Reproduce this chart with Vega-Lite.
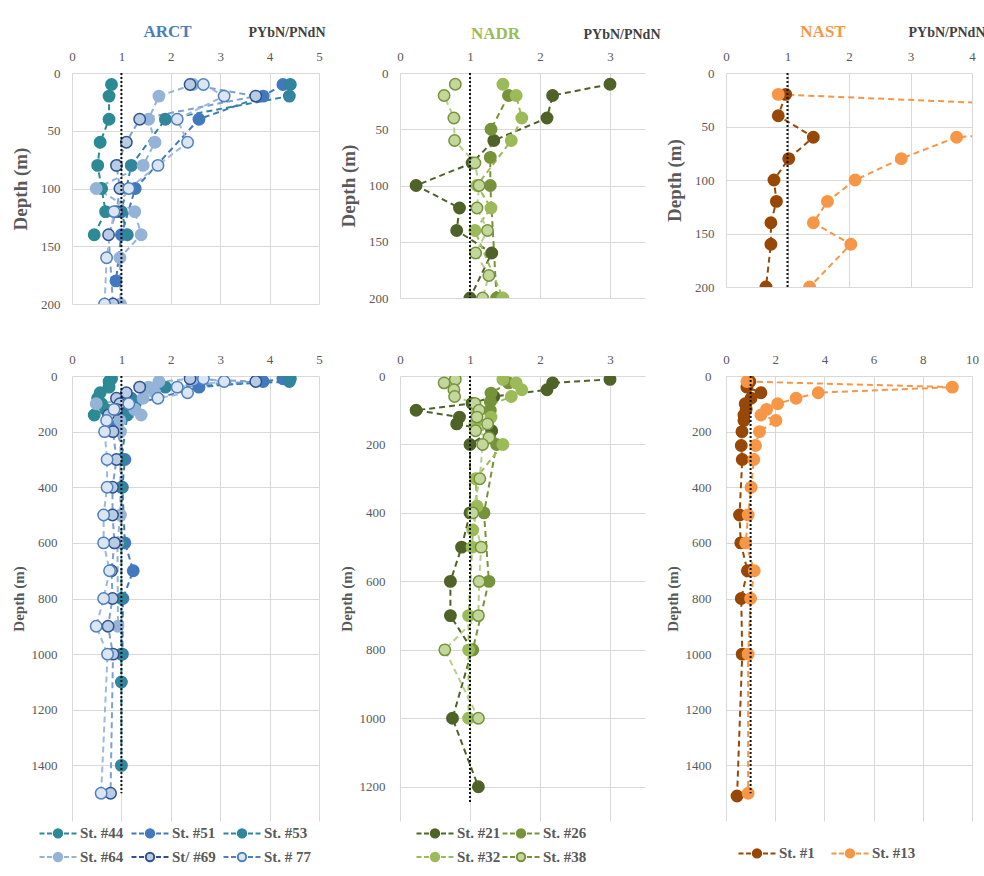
{
  "$schema": "https://vega.github.io/schema/vega-lite/v6.json",
  "background": "white",
  "padding": {"left": 11, "top": 23, "right": 5, "bottom": 5},
  "datasets": {
    "arct": [
      {"st": "St. #44", "d": 10, "v": 0.80}, {"st": "St. #44", "d": 20, "v": 0.75}, {"st": "St. #44", "d": 40, "v": 0.75}, {"st": "St. #44", "d": 60, "v": 0.57}, {"st": "St. #44", "d": 80, "v": 0.52}, {"st": "St. #44", "d": 100, "v": 0.60}, {"st": "St. #44", "d": 120, "v": 0.68}, {"st": "St. #44", "d": 140, "v": 0.45},
      {"st": "St. #51", "d": 10, "v": 4.27}, {"st": "St. #51", "d": 20, "v": 3.87}, {"st": "St. #51", "d": 40, "v": 2.57}, {"st": "St. #51", "d": 100, "v": 1.28}, {"st": "St. #51", "d": 140, "v": 1.0}, {"st": "St. #51", "d": 180, "v": 0.89}, {"st": "St. #51", "d": 300, "v": 1.07}, {"st": "St. #51", "d": 400, "v": 1.02}, {"st": "St. #51", "d": 600, "v": 1.07}, {"st": "St. #51", "d": 700, "v": 1.24}, {"st": "St. #51", "d": 800, "v": 1.03}, {"st": "St. #51", "d": 1000, "v": 1.02},
      {"st": "St. #53", "d": 10, "v": 4.42}, {"st": "St. #53", "d": 20, "v": 4.40}, {"st": "St. #53", "d": 40, "v": 1.89}, {"st": "St. #53", "d": 80, "v": 1.20}, {"st": "St. #53", "d": 120, "v": 1.0}, {"st": "St. #53", "d": 140, "v": 1.12}, {"st": "St. #53", "d": 300, "v": 1.0}, {"st": "St. #53", "d": 400, "v": 1.0}, {"st": "St. #53", "d": 600, "v": 1.0}, {"st": "St. #53", "d": 800, "v": 1.0}, {"st": "St. #53", "d": 1000, "v": 1.0}, {"st": "St. #53", "d": 1100, "v": 1.0}, {"st": "St. #53", "d": 1400, "v": 1.0},
      {"st": "St. #64", "d": 10, "v": 2.45}, {"st": "St. #64", "d": 20, "v": 1.76}, {"st": "St. #64", "d": 40, "v": 1.55}, {"st": "St. #64", "d": 60, "v": 1.68}, {"st": "St. #64", "d": 80, "v": 1.44}, {"st": "St. #64", "d": 100, "v": 0.49}, {"st": "St. #64", "d": 120, "v": 1.27}, {"st": "St. #64", "d": 140, "v": 1.40}, {"st": "St. #64", "d": 160, "v": 0.97}, {"st": "St. #64", "d": 200, "v": 0.98}, {"st": "St. #64", "d": 500, "v": 0.98}, {"st": "St. #64", "d": 600, "v": 0.92}, {"st": "St. #64", "d": 900, "v": 0.93},
      {"st": "St/ #69", "d": 10, "v": 2.39}, {"st": "St/ #69", "d": 20, "v": 3.72}, {"st": "St/ #69", "d": 40, "v": 1.37}, {"st": "St/ #69", "d": 60, "v": 1.10}, {"st": "St/ #69", "d": 80, "v": 0.90}, {"st": "St/ #69", "d": 100, "v": 0.97}, {"st": "St/ #69", "d": 120, "v": 0.90}, {"st": "St/ #69", "d": 140, "v": 0.74}, {"st": "St/ #69", "d": 200, "v": 0.83}, {"st": "St/ #69", "d": 300, "v": 0.90}, {"st": "St/ #69", "d": 400, "v": 0.82}, {"st": "St/ #69", "d": 500, "v": 0.82}, {"st": "St/ #69", "d": 600, "v": 0.86}, {"st": "St/ #69", "d": 700, "v": 0.80}, {"st": "St/ #69", "d": 800, "v": 0.82}, {"st": "St/ #69", "d": 900, "v": 0.73}, {"st": "St/ #69", "d": 1000, "v": 0.83}, {"st": "St/ #69", "d": 1500, "v": 0.78},
      {"st": "St. # 77", "d": 10, "v": 2.66}, {"st": "St. # 77", "d": 20, "v": 3.08}, {"st": "St. # 77", "d": 40, "v": 2.13}, {"st": "St. # 77", "d": 60, "v": 2.34}, {"st": "St. # 77", "d": 80, "v": 1.74}, {"st": "St. # 77", "d": 100, "v": 1.15}, {"st": "St. # 77", "d": 120, "v": 0.85}, {"st": "St. # 77", "d": 160, "v": 0.70}, {"st": "St. # 77", "d": 200, "v": 0.66}, {"st": "St. # 77", "d": 300, "v": 0.71}, {"st": "St. # 77", "d": 400, "v": 0.71}, {"st": "St. # 77", "d": 500, "v": 0.64}, {"st": "St. # 77", "d": 600, "v": 0.64}, {"st": "St. # 77", "d": 700, "v": 0.76}, {"st": "St. # 77", "d": 800, "v": 0.64}, {"st": "St. # 77", "d": 900, "v": 0.49}, {"st": "St. # 77", "d": 1000, "v": 0.72}, {"st": "St. # 77", "d": 1500, "v": 0.59}
    ],
    "nadr": [
      {"st": "St. #21", "d": 10, "v": 3.0}, {"st": "St. #21", "d": 20, "v": 2.18}, {"st": "St. #21", "d": 40, "v": 2.1}, {"st": "St. #21", "d": 60, "v": 1.34}, {"st": "St. #21", "d": 80, "v": 1.03}, {"st": "St. #21", "d": 100, "v": 0.23}, {"st": "St. #21", "d": 120, "v": 0.85}, {"st": "St. #21", "d": 140, "v": 0.81}, {"st": "St. #21", "d": 160, "v": 1.31}, {"st": "St. #21", "d": 200, "v": 1.0}, {"st": "St. #21", "d": 400, "v": 1.0}, {"st": "St. #21", "d": 500, "v": 0.88}, {"st": "St. #21", "d": 600, "v": 0.72}, {"st": "St. #21", "d": 700, "v": 0.72}, {"st": "St. #21", "d": 800, "v": 1.03}, {"st": "St. #21", "d": 1000, "v": 0.75}, {"st": "St. #21", "d": 1200, "v": 1.12},
      {"st": "St. #26", "d": 20, "v": 1.55}, {"st": "St. #26", "d": 50, "v": 1.3}, {"st": "St. #26", "d": 75, "v": 1.29}, {"st": "St. #26", "d": 100, "v": 1.29}, {"st": "St. #26", "d": 200, "v": 1.38}, {"st": "St. #26", "d": 400, "v": 1.2}, {"st": "St. #26", "d": 600, "v": 1.27}, {"st": "St. #26", "d": 800, "v": 1.04},
      {"st": "St. #32", "d": 10, "v": 1.47}, {"st": "St. #32", "d": 20, "v": 1.66}, {"st": "St. #32", "d": 40, "v": 1.74}, {"st": "St. #32", "d": 60, "v": 1.59}, {"st": "St. #32", "d": 100, "v": 1.10}, {"st": "St. #32", "d": 120, "v": 1.3}, {"st": "St. #32", "d": 140, "v": 1.07}, {"st": "St. #32", "d": 200, "v": 1.47}, {"st": "St. #32", "d": 300, "v": 1.08}, {"st": "St. #32", "d": 380, "v": 1.1}, {"st": "St. #32", "d": 450, "v": 1.04}, {"st": "St. #32", "d": 500, "v": 1.03}, {"st": "St. #32", "d": 700, "v": 0.98}, {"st": "St. #32", "d": 800, "v": 0.98}, {"st": "St. #32", "d": 1000, "v": 0.98},
      {"st": "St. #38", "d": 10, "v": 0.79}, {"st": "St. #38", "d": 20, "v": 0.63}, {"st": "St. #38", "d": 40, "v": 0.77}, {"st": "St. #38", "d": 60, "v": 0.78}, {"st": "St. #38", "d": 80, "v": 1.07}, {"st": "St. #38", "d": 100, "v": 1.13}, {"st": "St. #38", "d": 120, "v": 1.1}, {"st": "St. #38", "d": 140, "v": 1.25}, {"st": "St. #38", "d": 160, "v": 1.08}, {"st": "St. #38", "d": 180, "v": 1.27}, {"st": "St. #38", "d": 200, "v": 1.18}, {"st": "St. #38", "d": 300, "v": 1.14}, {"st": "St. #38", "d": 400, "v": 1.04}, {"st": "St. #38", "d": 500, "v": 1.16}, {"st": "St. #38", "d": 600, "v": 1.13}, {"st": "St. #38", "d": 700, "v": 1.12}, {"st": "St. #38", "d": 800, "v": 0.64}, {"st": "St. #38", "d": 1000, "v": 1.12}
    ],
    "nast": [
      {"st": "St. #1", "d": 20, "v": 0.97}, {"st": "St. #1", "d": 40, "v": 0.85}, {"st": "St. #1", "d": 60, "v": 1.42}, {"st": "St. #1", "d": 80, "v": 1.02}, {"st": "St. #1", "d": 100, "v": 0.78}, {"st": "St. #1", "d": 120, "v": 0.82}, {"st": "St. #1", "d": 140, "v": 0.73}, {"st": "St. #1", "d": 160, "v": 0.73}, {"st": "St. #1", "d": 200, "v": 0.65}, {"st": "St. #1", "d": 250, "v": 0.62}, {"st": "St. #1", "d": 300, "v": 0.66}, {"st": "St. #1", "d": 500, "v": 0.55}, {"st": "St. #1", "d": 600, "v": 0.6}, {"st": "St. #1", "d": 700, "v": 0.87}, {"st": "St. #1", "d": 800, "v": 0.62}, {"st": "St. #1", "d": 1000, "v": 0.66}, {"st": "St. #1", "d": 1510, "v": 0.45},
      {"st": "St. #13", "d": 20, "v": 0.85}, {"st": "St. #13", "d": 40, "v": 9.2}, {"st": "St. #13", "d": 60, "v": 3.75}, {"st": "St. #13", "d": 80, "v": 2.85}, {"st": "St. #13", "d": 100, "v": 2.1}, {"st": "St. #13", "d": 120, "v": 1.65}, {"st": "St. #13", "d": 140, "v": 1.42}, {"st": "St. #13", "d": 160, "v": 2.03}, {"st": "St. #13", "d": 200, "v": 1.36}, {"st": "St. #13", "d": 250, "v": 1.2}, {"st": "St. #13", "d": 300, "v": 1.13}, {"st": "St. #13", "d": 400, "v": 1.02}, {"st": "St. #13", "d": 500, "v": 0.9}, {"st": "St. #13", "d": 600, "v": 0.8}, {"st": "St. #13", "d": 700, "v": 1.15}, {"st": "St. #13", "d": 800, "v": 1.0}, {"st": "St. #13", "d": 1000, "v": 0.9}, {"st": "St. #13", "d": 1500, "v": 0.9}
    ]
  },
  "concat": [
    {
      "width": 247, "height": 231,
      "title": {"text": "ARCT", "color": "#4A7EBB", "dx": -28},
      "layer": [
        {"data": {"name": "arct"}, "transform": [{"filter": "datum.d <= 200"}],
         "mark": {"type": "line", "strokeDash": [6, 4], "strokeWidth": 2, "clip": true},
         "encoding": {
           "x": {"field": "v", "type": "quantitative", "scale": {"domain": [0, 5]}, "axis": {"orient": "top", "values": [0, 1, 2, 3, 4, 5], "format": "d", "title": "PYbN/PNdN", "titleX": 176, "titleY": -41}},
           "y": {"field": "d", "type": "quantitative", "scale": {"domain": [0, 200], "reverse": true}, "axis": {"values": [0, 50, 100, 150, 200], "format": "d", "title": "Depth (m)", "titleFontSize": 19, "titlePadding": 2, "minExtent": 40, "maxExtent": 40, "labelPadding": 12}},
           "color": {"field": "st", "type": "nominal", "scale": {"domain": ["St. # 77", "St/ #69", "St. #64", "St. #53", "St. #51", "St. #44"], "range": ["#9DB9E0", "#7DA0D0", "#95B3D7", "#31859C", "#4279BE", "#2B8A94"]}, "legend": null},
           "order": {"field": "d", "type": "quantitative"}
         }},
        {"data": {"name": "arct"}, "transform": [{"filter": "datum.d <= 200"}],
         "mark": {"type": "circle", "size": 130, "opacity": 1, "strokeWidth": 1.5, "clip": true},
         "encoding": {
           "x": {"field": "v", "type": "quantitative"},
           "y": {"field": "d", "type": "quantitative"},
           "fill": {"field": "st", "type": "nominal", "scale": {"domain": ["St. #44", "St. #51", "St. #53", "St. #64", "St/ #69", "St. # 77"], "range": ["#2B8A94", "#4279BE", "#31859C", "#95B3D7", "#B8CCE4", "#DCE6F2"]}, "legend": null},
           "stroke": {"field": "st", "type": "nominal", "scale": {"domain": ["St. #44", "St. #51", "St. #53", "St. #64", "St/ #69", "St. # 77"], "range": ["#2B8A94", "#4279BE", "#31859C", "#95B3D7", "#2F528F", "#4F81BD"]}, "legend": null}
         }},
        {"data": {"values": [{"v": 1, "d": 0, "d2": 200}]},
         "mark": {"type": "rule", "strokeDash": [2, 2], "strokeWidth": 2, "color": "#111111"},
         "encoding": {"x": {"field": "v", "type": "quantitative"}, "y": {"field": "d", "type": "quantitative"}, "y2": {"field": "d2"}}}
      ]
    },
    {
      "width": 245, "height": 225,
      "title": {"text": "NADR", "color": "#9BBB59", "dx": -27},
      "layer": [
        {"data": {"name": "nadr"}, "transform": [{"filter": "datum.d <= 200"}],
         "mark": {"type": "line", "strokeDash": [6, 4], "strokeWidth": 2, "clip": true},
         "encoding": {
           "x": {"field": "v", "type": "quantitative", "scale": {"domain": [0, 3.2]}, "axis": {"orient": "top", "values": [0, 1, 2, 3], "format": "d", "title": "PYbN/PNdN", "titleX": 183, "titleY": -39}},
           "y": {"field": "d", "type": "quantitative", "scale": {"domain": [0, 200], "reverse": true}, "axis": {"values": [0, 50, 100, 150, 200], "format": "d", "title": "Depth (m)", "titleFontSize": 19, "titlePadding": 2, "minExtent": 40, "maxExtent": 40, "labelPadding": 12}},
           "color": {"field": "st", "type": "nominal", "scale": {"domain": ["St. #38", "St. #32", "St. #26", "St. #21"], "range": ["#B6CF8A", "#9BBB59", "#76933C", "#4F6228"]}, "legend": null},
           "order": {"field": "d", "type": "quantitative"}
         }},
        {"data": {"name": "nadr"}, "transform": [{"filter": "datum.d <= 200"}],
         "mark": {"type": "circle", "size": 130, "opacity": 1, "strokeWidth": 1.5, "clip": true},
         "encoding": {
           "x": {"field": "v", "type": "quantitative"},
           "y": {"field": "d", "type": "quantitative"},
           "fill": {"field": "st", "type": "nominal", "scale": {"domain": ["St. #21", "St. #26", "St. #32", "St. #38"], "range": ["#4F6228", "#76933C", "#9BBB59", "#C4D79B"]}, "legend": null},
           "stroke": {"field": "st", "type": "nominal", "scale": {"domain": ["St. #21", "St. #26", "St. #32", "St. #38"], "range": ["#4F6228", "#76933C", "#9BBB59", "#76933C"]}, "legend": null}
         }},
        {"data": {"values": [{"v": 1, "d": 0, "d2": 200}]},
         "mark": {"type": "rule", "strokeDash": [2, 2], "strokeWidth": 2, "color": "#111111"},
         "encoding": {"x": {"field": "v", "type": "quantitative"}, "y": {"field": "d", "type": "quantitative"}, "y2": {"field": "d2"}}}
      ]
    },
    {
      "width": 246, "height": 214,
      "title": {"text": "NAST", "color": "#F79646", "dx": -26},
      "layer": [
        {"data": {"name": "nast"}, "transform": [{"filter": "datum.d <= 200"}],
         "mark": {"type": "line", "strokeDash": [6, 4], "strokeWidth": 2, "clip": true},
         "encoding": {
           "x": {"field": "v", "type": "quantitative", "scale": {"domain": [0, 4]}, "axis": {"orient": "top", "values": [0, 1, 2, 3, 4], "format": "d", "title": "PYbN/PNdN", "titleX": 182, "titleY": -41}},
           "y": {"field": "d", "type": "quantitative", "scale": {"domain": [0, 200], "reverse": true}, "axis": {"values": [0, 50, 100, 150, 200], "format": "d", "title": "Depth (m)", "titleFontSize": 19, "titlePadding": 2, "minExtent": 40, "maxExtent": 40, "labelPadding": 12}},
           "color": {"field": "st", "type": "nominal", "scale": {"domain": ["St. #13", "St. #1"], "range": ["#F79646", "#974806"]}, "legend": null},
           "order": {"field": "d", "type": "quantitative"}
         }},
        {"data": {"name": "nast"}, "transform": [{"filter": "datum.d <= 200"}],
         "mark": {"type": "circle", "size": 130, "opacity": 1, "strokeWidth": 1.5, "clip": true},
         "encoding": {
           "x": {"field": "v", "type": "quantitative"},
           "y": {"field": "d", "type": "quantitative"},
           "fill": {"field": "st", "type": "nominal", "scale": {"domain": ["St. #1", "St. #13"], "range": ["#974806", "#F79646"]}, "legend": null},
           "stroke": {"field": "st", "type": "nominal", "scale": {"domain": ["St. #1", "St. #13"], "range": ["#974806", "#F79646"]}, "legend": null}
         }},
        {"data": {"values": [{"v": 1, "d": 0, "d2": 200}]},
         "mark": {"type": "rule", "strokeDash": [2, 2], "strokeWidth": 2, "color": "#111111"},
         "encoding": {"x": {"field": "v", "type": "quantitative"}, "y": {"field": "d", "type": "quantitative"}, "y2": {"field": "d2"}}}
      ]
    },
    {
      "width": 247, "height": 445,
      "layer": [
        {"data": {"name": "arct"},
         "mark": {"type": "line", "strokeDash": [6, 4], "strokeWidth": 2, "clip": true},
         "encoding": {
           "x": {"field": "v", "type": "quantitative", "scale": {"domain": [0, 5]}, "axis": {"orient": "top", "values": [0, 1, 2, 3, 4, 5], "format": "d", "title": null}},
           "y": {"field": "d", "type": "quantitative", "scale": {"domain": [0, 1550], "reverse": true}, "axis": {"values": [0, 200, 400, 600, 800, 1000, 1200, 1400], "format": "d", "title": "Depth (m)", "titleFontSize": 15, "titlePadding": 6, "minExtent": 40, "maxExtent": 40, "labelPadding": 15}},
           "color": {"field": "st", "type": "nominal", "scale": {"domain": ["St. # 77", "St/ #69", "St. #64", "St. #53", "St. #51", "St. #44"], "range": ["#9DB9E0", "#7DA0D0", "#95B3D7", "#31859C", "#4279BE", "#2B8A94"]}, "legend": null},
           "order": {"field": "d", "type": "quantitative"}
         }},
        {"data": {"name": "arct"},
         "mark": {"type": "circle", "size": 130, "opacity": 1, "strokeWidth": 1.5, "clip": true},
         "encoding": {
           "x": {"field": "v", "type": "quantitative"},
           "y": {"field": "d", "type": "quantitative"},
           "fill": {"field": "st", "type": "nominal", "scale": {"domain": ["St. #44", "St. #51", "St. #53", "St. #64", "St/ #69", "St. # 77"], "range": ["#2B8A94", "#4279BE", "#31859C", "#95B3D7", "#B8CCE4", "#DCE6F2"]}, "legend": {"title": null, "orient": "none", "legendX": -25, "legendY": 446, "columns": 3, "columnPadding": 3, "direction": "horizontal"}},
           "stroke": {"field": "st", "type": "nominal", "scale": {"domain": ["St. #44", "St. #51", "St. #53", "St. #64", "St/ #69", "St. # 77"], "range": ["#2B8A94", "#4279BE", "#31859C", "#95B3D7", "#2F528F", "#4F81BD"]}, "legend": {"title": null, "orient": "none", "legendX": -25, "legendY": 446, "columns": 3, "columnPadding": 3, "direction": "horizontal"}}
         }},
        {"data": {"values": [{"v": 1, "d": 0, "d2": 1500}]},
         "mark": {"type": "rule", "strokeDash": [2, 2], "strokeWidth": 2, "color": "#111111"},
         "encoding": {"x": {"field": "v", "type": "quantitative"}, "y": {"field": "d", "type": "quantitative"}, "y2": {"field": "d2"}}}
      ]
    },
    {
      "width": 245, "height": 445,
      "layer": [
        {"data": {"name": "nadr"},
         "mark": {"type": "line", "strokeDash": [6, 4], "strokeWidth": 2, "clip": true},
         "encoding": {
           "x": {"field": "v", "type": "quantitative", "scale": {"domain": [0, 3.2]}, "axis": {"orient": "top", "values": [0, 1, 2, 3], "format": "d", "title": null}},
           "y": {"field": "d", "type": "quantitative", "scale": {"domain": [0, 1250], "reverse": true}, "axis": {"values": [0, 200, 400, 600, 800, 1000, 1200], "format": "d", "title": "Depth (m)", "titleFontSize": 15, "titlePadding": 6, "minExtent": 40, "maxExtent": 40, "labelPadding": 15}},
           "color": {"field": "st", "type": "nominal", "scale": {"domain": ["St. #38", "St. #32", "St. #26", "St. #21"], "range": ["#B6CF8A", "#9BBB59", "#76933C", "#4F6228"]}, "legend": null},
           "order": {"field": "d", "type": "quantitative"}
         }},
        {"data": {"name": "nadr"},
         "mark": {"type": "circle", "size": 130, "opacity": 1, "strokeWidth": 1.5, "clip": true},
         "encoding": {
           "x": {"field": "v", "type": "quantitative"},
           "y": {"field": "d", "type": "quantitative"},
           "fill": {"field": "st", "type": "nominal", "scale": {"domain": ["St. #21", "St. #26", "St. #32", "St. #38"], "range": ["#4F6228", "#76933C", "#9BBB59", "#C4D79B"]}, "legend": {"title": null, "orient": "none", "legendX": 24, "legendY": 446, "columns": 2, "columnPadding": -3, "direction": "horizontal"}},
           "stroke": {"field": "st", "type": "nominal", "scale": {"domain": ["St. #21", "St. #26", "St. #32", "St. #38"], "range": ["#4F6228", "#76933C", "#9BBB59", "#76933C"]}, "legend": {"title": null, "orient": "none", "legendX": 24, "legendY": 446, "columns": 2, "columnPadding": -3, "direction": "horizontal"}}
         }},
        {"data": {"values": [{"v": 1, "d": 0, "d2": 1250}]},
         "mark": {"type": "rule", "strokeDash": [2, 2], "strokeWidth": 2, "color": "#111111"},
         "encoding": {"x": {"field": "v", "type": "quantitative"}, "y": {"field": "d", "type": "quantitative"}, "y2": {"field": "d2"}}}
      ]
    },
    {
      "width": 246, "height": 445,
      "layer": [
        {"data": {"name": "nast"},
         "mark": {"type": "line", "strokeDash": [6, 4], "strokeWidth": 2, "clip": true},
         "encoding": {
           "x": {"field": "v", "type": "quantitative", "scale": {"domain": [0, 10]}, "axis": {"orient": "top", "values": [0, 2, 4, 6, 8, 10], "format": "d", "title": null}},
           "y": {"field": "d", "type": "quantitative", "scale": {"domain": [0, 1550], "reverse": true}, "axis": {"values": [0, 200, 400, 600, 800, 1000, 1200, 1400], "format": "d", "title": "Depth (m)", "titleFontSize": 15, "titlePadding": 6, "minExtent": 40, "maxExtent": 40, "labelPadding": 15}},
           "color": {"field": "st", "type": "nominal", "scale": {"domain": ["St. #13", "St. #1"], "range": ["#F79646", "#974806"]}, "legend": null},
           "order": {"field": "d", "type": "quantitative"}
         }},
        {"data": {"name": "nast"},
         "mark": {"type": "circle", "size": 130, "opacity": 1, "strokeWidth": 1.5, "clip": true},
         "encoding": {
           "x": {"field": "v", "type": "quantitative"},
           "y": {"field": "d", "type": "quantitative"},
           "fill": {"field": "st", "type": "nominal", "scale": {"domain": ["St. #1", "St. #13"], "range": ["#974806", "#F79646"]}, "legend": {"title": null, "orient": "none", "legendX": 20, "legendY": 466, "columns": 2, "columnPadding": 12, "direction": "horizontal"}},
           "stroke": {"field": "st", "type": "nominal", "scale": {"domain": ["St. #1", "St. #13"], "range": ["#974806", "#F79646"]}, "legend": {"title": null, "orient": "none", "legendX": 20, "legendY": 466, "columns": 2, "columnPadding": 12, "direction": "horizontal"}}
         }},
        {"data": {"values": [{"v": 1, "d": 0, "d2": 1500}]},
         "mark": {"type": "rule", "strokeDash": [2, 2], "strokeWidth": 2, "color": "#111111"},
         "encoding": {"x": {"field": "v", "type": "quantitative"}, "y": {"field": "d", "type": "quantitative"}, "y2": {"field": "d2"}}}
      ]
    }
  ],
  "columns": 3,
  "spacing": {"row": 72, "column": 81},
  "bounds": "flush",
  "align": "each",
  "resolve": {"scale": {"x": "independent", "y": "independent", "color": "independent", "fill": "independent", "stroke": "independent"}, "legend": {"color": "independent", "fill": "independent", "stroke": "independent"}},
  "config": {
    "font": "Liberation Serif",
    "view": {"stroke": null},
    "axis": {
      "grid": true, "gridColor": "#D9D9D9", "gridWidth": 1,
      "domain": false, "ticks": false, "tickSize": 0,
      "labelFont": "Liberation Serif", "labelFontSize": 13, "labelColor": "#595959",
      "labelFlush": false, "labelOverlap": false,
      "titleFont": "Liberation Serif", "titleFontWeight": "bold", "titleColor": "#595959"
    },
    "axisX": {"labelPadding": 10, "titleFontSize": 14, "titleColor": "#404040", "titleAlign": "left", "titleBaseline": "middle"},
    "title": {"font": "Liberation Serif", "fontSize": 17, "fontWeight": "bold", "anchor": "middle", "frame": "group", "offset": 0, "dy": 20},
    "legend": {
      "symbolType": "M-1.85,0H-1.35M-1.1,0H-0.6M0.6,0H1.1M1.35,0H1.85M-0.42,0A0.42,0.42,0,1,1,0.42,0A0.42,0.42,0,1,1,-0.42,0Z",
      "symbolSize": 400, "symbolStrokeWidth": 2,
      "labelFont": "Liberation Serif", "labelFontSize": 15, "labelFontWeight": "bold", "labelColor": "#595959",
      "labelOffset": 11, "rowPadding": 4
    }
  }
}
